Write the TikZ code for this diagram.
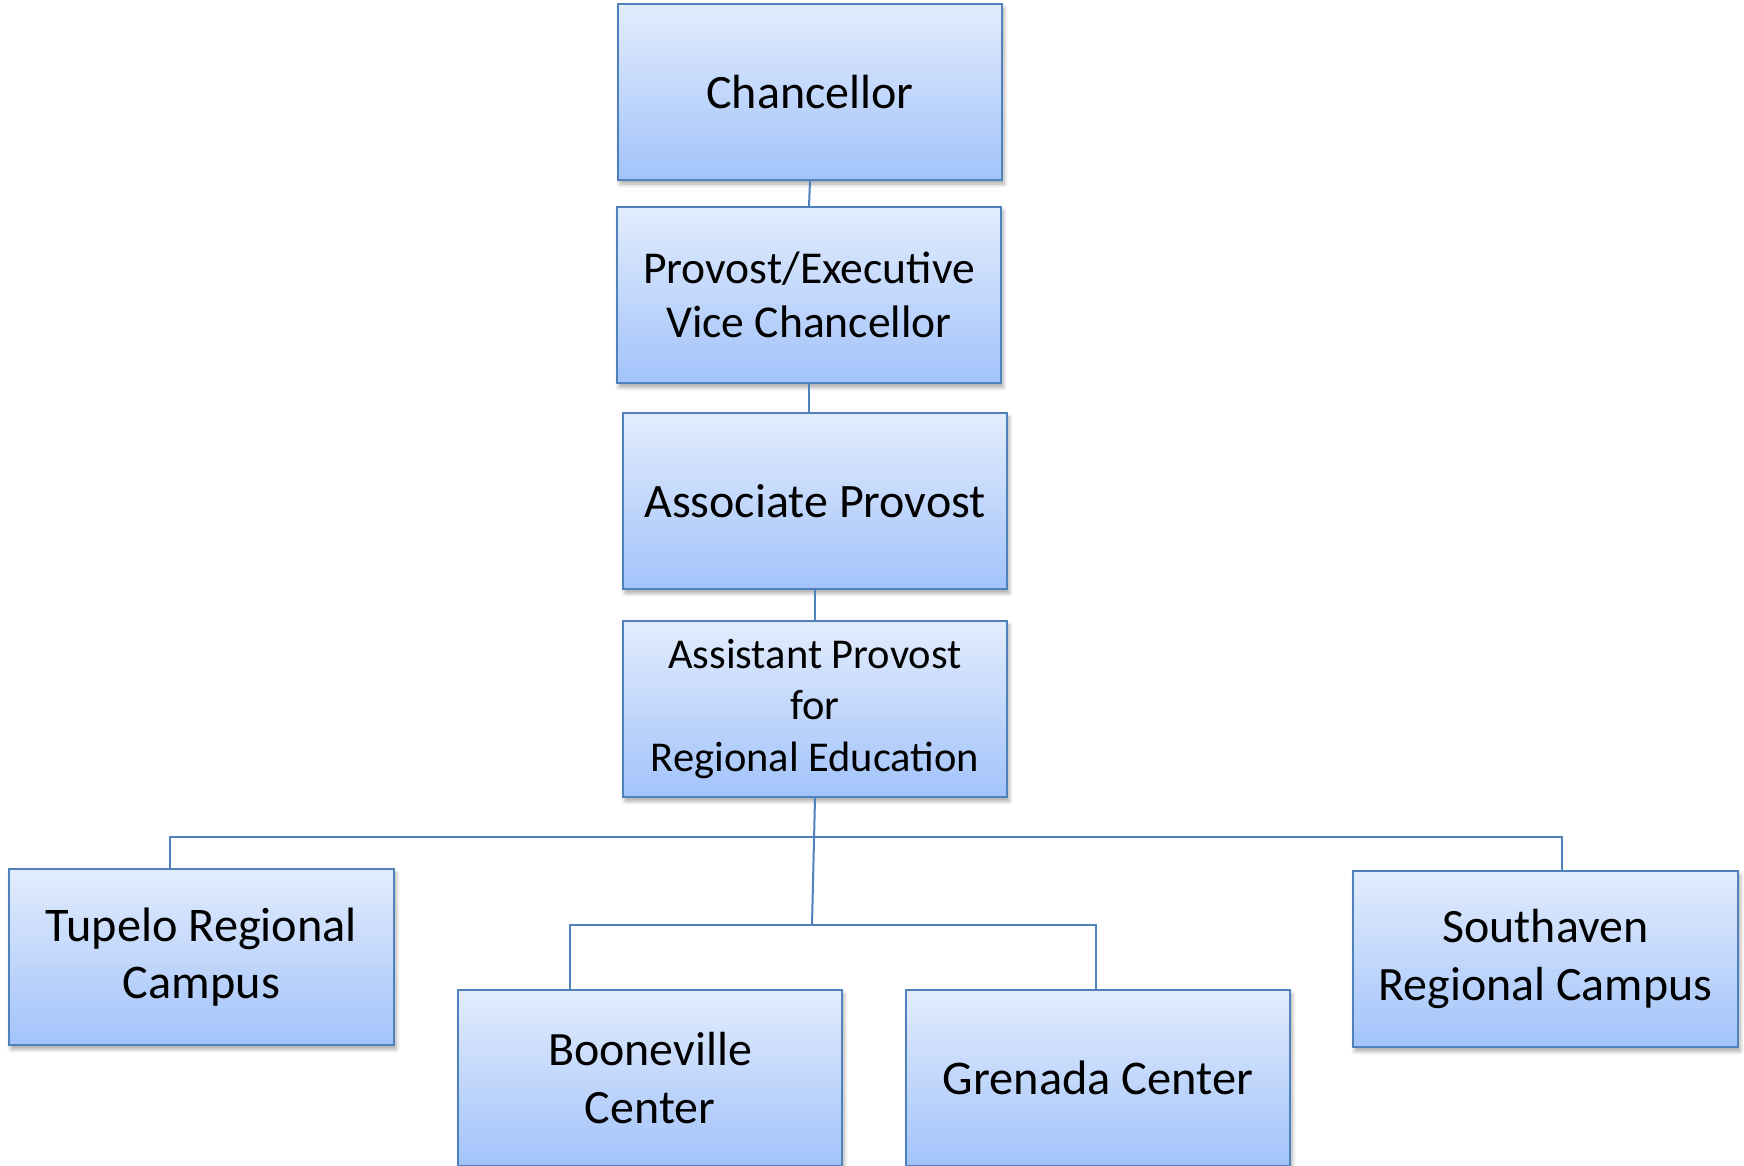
\documentclass[tikz,border=0pt]{standalone}
\usepackage{fontspec}
\setmainfont{Carlito}
\usetikzlibrary{shadows.blur}
\definecolor{topc}{RGB}{226,236,253}
\definecolor{botc}{RGB}{162,195,250}
\definecolor{edgec}{RGB}{79,129,189}
\tikzset{
  orgbox/.style={rectangle, draw=edgec, line width=2pt, top color=topc, bottom color=botc,
    minimum width=384pt, minimum height=176pt, inner sep=0pt, align=center, text=black,
    blur shadow={shadow xshift=2pt, shadow yshift=-4pt, shadow blur radius=4pt, shadow opacity=35}},
  link/.style={draw=edgec, line width=2pt}
}
\begin{document}
\begin{tikzpicture}[x=1pt,y=-1pt]
\useasboundingbox (0,0) rectangle (1744,1165);
\node[orgbox, font=\fontsize{48}{56}\selectfont] (chan) at (810,92) {Chancellor};
\node[orgbox, font=\fontsize{45.6}{53.4}\selectfont] (prov) at (809,295) {Provost/Executive\\Vice Chancellor};
\node[orgbox, font=\fontsize{48}{56}\selectfont] (assoc) at (815,501) {Associate Provost};
\node[orgbox, font=\fontsize{42.5}{51.7}\selectfont] (asst) at (815,709) {Assistant Provost\\for\\Regional Education};
\node[orgbox, minimum width=385pt, font=\fontsize{48.3}{56.7}\selectfont] (tup) at (201.5,957) {Tupelo Regional\\Campus};
\node[orgbox, minimum width=385pt, font=\fontsize{47.9}{57.7}\selectfont] (south) at (1545.5,959) {Southaven\\Regional Campus};
\node[orgbox, font=\fontsize{47.9}{58}\selectfont] (boon) at (650,1078) {Booneville\\Center};
\node[orgbox, font=\fontsize{48.4}{56}\selectfont] (gren) at (1098,1078) {Grenada Center};
\coordinate (busL) at (170,837);
\coordinate (busR) at (1562,837);
\coordinate (hub) at (812,925);
\coordinate (boonL) at (570,925);
\coordinate (grenR) at (1096,925);
\draw[link] (chan.south) -- (prov.north);
\draw[link] (prov.south) -- (prov.south |- assoc.north);
\draw[link] (assoc.south) -- (asst.north);
\draw[link] (asst.south) -- (hub);
\draw[link] (busL |- tup.north) -- (busL) -- (busR) -- (busR |- south.north);
\draw[link] (boonL |- boon.north) -- (boonL) -- (grenR) -- (grenR |- gren.north);
\end{tikzpicture}
\end{document}
